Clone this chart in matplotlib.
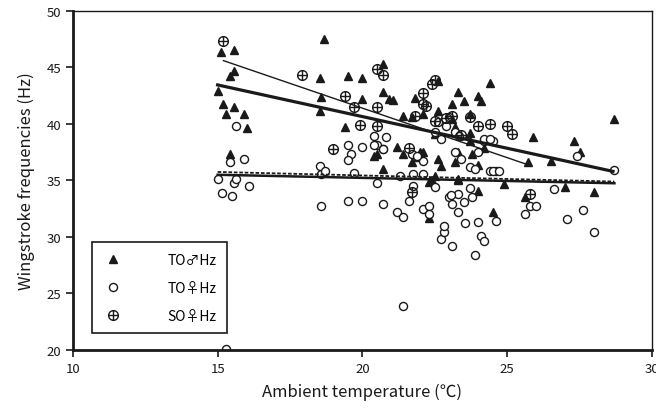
import numpy as np
import matplotlib
matplotlib.use("Agg")
import matplotlib.pyplot as plt
from matplotlib.path import Path

plt.rcParams['font.family'] = ['Noto Sans CJK JP', 'DejaVu Sans']

# TO male (triangles)
male_x = [15.13, 15.58, 15.55, 15.44, 15.0, 15.2, 15.58, 15.3, 15.9, 16.0, 15.44,
          18.67, 18.53, 18.56, 18.53, 19.5, 20.0, 20.7, 20.7, 20.9, 21.06, 20.0,
          19.4, 20.5, 21.2, 21.4, 21.8, 22.1, 22.6, 20.7, 24.4, 23.3, 23.1, 23.5,
          24.0, 24.1, 28.7, 25.9, 27.3, 27.5, 25.7, 26.5, 24.5, 25.6, 27.0, 28.0,
          24.0, 24.9, 20.4, 22.3, 23.3, 21.7, 24.0, 22.3, 21.7, 22.6, 23.1, 23.7,
          22.5, 23.2, 23.7, 21.8, 22.1, 21.4, 22.0, 22.6, 22.7, 23.2, 23.3, 22.4,
          23.3, 23.8, 22.5, 23.7, 24.2]
male_y = [46.4, 46.5, 44.7, 44.2, 42.9, 41.8, 41.5, 40.9, 40.9, 39.6, 37.3,
          47.5, 44.1, 42.4, 41.1, 44.2, 44.1, 45.3, 42.8, 42.2, 42.1, 42.2,
          39.7, 37.3, 38.0, 40.7, 42.3, 40.9, 43.8, 36.0, 43.6, 42.8, 41.8, 42.0,
          42.5, 42.0, 40.4, 38.8, 38.5, 37.5, 36.6, 36.7, 32.2, 33.5, 34.4, 34.0,
          34.1, 34.7, 37.2, 34.9, 35.0, 36.6, 36.4, 31.7, 40.6, 41.1, 40.4, 40.9,
          39.1, 39.7, 38.5, 37.1, 37.5, 37.3, 37.5, 36.9, 36.3, 36.6, 37.5, 35.0,
          35.1, 37.3, 35.4, 39.2, 37.9]

# TO female (open circles)
fem_x = [15.65, 15.44, 15.9, 15.0, 15.16, 15.5, 15.55, 15.65, 16.1, 15.3,
         18.56, 19.5, 20.0, 20.5, 20.7, 21.2, 21.4, 21.6, 21.75, 22.1, 22.3, 22.3,
         22.5, 21.4, 22.7, 22.8, 22.8, 23.1, 23.0, 23.1, 23.3, 18.56, 19.7, 21.3,
         21.75, 23.3, 23.5, 23.55, 24.0, 24.1, 24.2, 23.9, 24.6, 25.6, 25.8, 26.0,
         26.6, 27.05, 27.6, 28.0, 23.8, 23.7, 23.05, 28.7, 27.4, 24.4, 24.6, 24.2,
         24.5, 24.0, 23.2, 20.5, 20.7, 23.7, 23.9, 22.1, 24.5, 24.7, 22.1, 21.8,
         19.5, 19.6, 19.5, 20.0, 20.4, 20.4, 20.7, 21.7, 21.9, 18.53, 18.7,
         22.5, 23.0, 22.9, 22.7, 23.2, 22.6, 23.35, 24.2, 24.4, 20.8, 23.4]
fem_y = [39.8, 36.6, 36.9, 35.1, 33.9, 33.6, 34.8, 35.1, 34.5, 20.1,
         32.7, 33.2, 33.2, 34.8, 32.9, 32.2, 31.8, 33.2, 34.5, 32.5, 32.7, 32.0,
         34.4, 23.9, 29.8, 30.4, 31.0, 29.2, 33.5, 32.9, 32.2, 35.6, 35.7, 35.4,
         35.6, 33.8, 33.1, 31.2, 31.3, 30.1, 29.6, 28.4, 31.4, 32.0, 32.7, 32.7,
         34.2, 31.6, 32.4, 30.4, 33.5, 34.3, 33.7, 35.9, 37.2, 35.8, 35.8, 38.5,
         38.5, 37.5, 37.5, 38.1, 37.8, 36.2, 36.0, 36.7, 35.8, 35.8, 35.6, 37.2,
         38.1, 37.3, 36.8, 38.0, 38.1, 38.9, 37.8, 37.3, 37.2, 36.3, 35.8,
         39.3, 40.6, 39.8, 38.7, 39.3, 40.2, 38.9, 38.7, 38.7, 38.8, 36.9]

# SO female (crossed circles)
so_x = [15.2, 17.9, 20.5, 20.7, 19.4, 19.7, 20.5, 19.9, 20.5, 19.0, 21.6,
        22.1, 22.2, 22.4, 21.8, 23.1, 22.1, 22.9, 23.7, 24.0, 24.4, 25.0,
        25.15, 22.5, 25.8, 21.7, 22.5, 23.4]
so_y = [47.3, 44.3, 44.9, 44.3, 42.5, 41.5, 41.5, 39.9, 39.8, 37.8, 37.9,
        42.7, 41.6, 43.5, 40.7, 40.7, 41.8, 40.5, 40.6, 39.8, 40.0, 39.8,
        39.1, 40.3, 33.8, 34.0, 43.9, 39.0]

# regression lines (end points)
fit_male_x = [15.0, 28.65]
fit_male_y = [43.45, 35.8]
fit_so_x = [15.2, 25.7]
fit_so_y = [45.6, 36.4]
fit_fem_x = [15.0, 28.7]
fit_fem_y = [35.5, 34.75]
fit_fem2_y = [35.75, 34.9]

ink = '#1a1a1a'
oplus = Path.make_compound_path(Path.unit_circle(),
                                Path([[-1, 0], [1, 0]], [1, 2]),
                                Path([[0, -1], [0, 1]], [1, 2]))

fig = plt.figure(figsize=(6.56, 4.10), dpi=100)
ax = fig.add_axes([0.111, 0.144, 0.883, 0.827])

ax.plot(male_x, male_y, '^', color=ink, ms=5.5, ls='none', label='TO♂Hz')
ax.plot(fem_x, fem_y, 'o', mfc='white', mec=ink, mew=1.0, ms=5.8, ls='none', label='TO♀Hz')
ax.plot(so_x, so_y, marker=oplus, mfc='none', mec=ink, mew=1.0, ms=7, ls='none', label='SO♀Hz')

ax.plot(fit_male_x, fit_male_y, color=ink, lw=2.3)
ax.plot(fit_so_x, fit_so_y, color=ink, lw=1.0)
ax.plot(fit_fem_x, fit_fem_y, color=ink, lw=1.8)
ax.plot(fit_fem_x, fit_fem2_y, color=ink, lw=1.3, ls=(0, (2, 1)))

ax.set_xlim(10, 30)
ax.set_ylim(20, 50)
ax.set_xticks([10, 15, 20, 25, 30])
ax.set_yticks([20, 25, 30, 35, 40, 45, 50])
ax.tick_params(direction='out', length=5, width=1.2, colors=ink, labelsize=9.5)
for s in ['left', 'bottom']:
    ax.spines[s].set_linewidth(2.0)
for s in ['top', 'right']:
    ax.spines[s].set_linewidth(1.0)
for s in ax.spines.values():
    s.set_color(ink)

ax.set_xlabel('Ambient temperature (℃)', fontsize=12, color=ink, labelpad=6)
ax.set_ylabel('Wingstroke frequencies (Hz)', fontsize=12, color=ink, labelpad=8)

leg = ax.legend(loc='lower left', bbox_to_anchor=(0.033, 0.05), borderaxespad=0,
                fancybox=False, framealpha=1, edgecolor=ink, fontsize=10,
                handlelength=1.5, handletextpad=3.2, borderpad=0.75, labelspacing=1.0)
leg.get_frame().set_linewidth(1.2)

fig.savefig('out.png', dpi=100)
